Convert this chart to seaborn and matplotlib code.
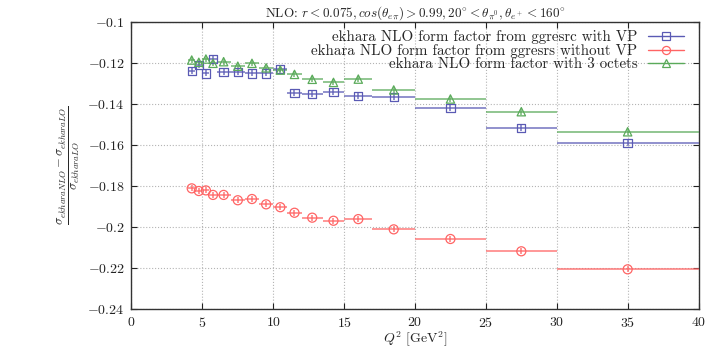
import seaborn as sns
import matplotlib.pyplot as plt
from matplotlib.lines import Line2D
import numpy as np

# Q^2 bins (centre, lower edge, upper edge)
q2 = [4.25, 4.75, 5.25, 5.75, 6.5, 7.5, 8.5, 9.5, 10.5, 11.5,
      12.75, 14.25, 16, 18.5, 22.5, 27.5, 35]
q2_lo = [4.0, 4.5, 5.0, 5.5, 6, 7, 8, 9, 10, 11,
         12, 13.5, 15, 17, 20, 25, 30]
q2_hi = [4.5, 5.0, 5.5, 6.0, 7, 8, 9, 10, 11, 12,
         13.5, 15, 17, 20, 25, 30, 40]

# relative NLO corrections
ggresrc_vp = [-0.1236, -0.1208, -0.1249, -0.1179, -0.1242, -0.1242, -0.1249, -0.1249, -0.1228,
              -0.1346, -0.1350, -0.1341, -0.1358, -0.1363, -0.1417, -0.1514, -0.1589]
ggresrs_novp = [-0.1810, -0.1823, -0.1820, -0.1842, -0.1842, -0.1868, -0.1862, -0.1888, -0.1902,
                -0.1929, -0.1953, -0.1968, -0.1960, -0.2010, -0.2057, -0.2117, -0.2205]
octets3 = [-0.1184, -0.1195, -0.1179, -0.1200, -0.1192, -0.1214, -0.1200, -0.1222, -0.1233,
           -0.1254, -0.1278, -0.1293, -0.1277, -0.1330, -0.1374, -0.1436, -0.1534]
stat_err = [0.0015] * len(q2)

labels = ['ekhara NLO form factor from ggresrc with VP',
          'ekhara NLO form factor from ggresrs without VP',
          'ekhara NLO form factor with 3 octets']

sns.set_style('ticks')
plt.rcParams['font.family'] = ['cmr10', 'DejaVu Serif']
plt.rcParams['mathtext.fontset'] = 'cm'
plt.rcParams['axes.formatter.use_mathtext'] = True
plt.rcParams['axes.unicode_minus'] = True

fig = plt.figure(figsize=(7.08, 3.52), dpi=100)
ax = fig.add_axes([0.1857, 0.1213, 0.8009, 0.8153])

series = [(ggresrc_vp, '#5a5ab4', 's', 6.0),
          (ggresrs_novp, '#ff6464', 'o', 6.5),
          (octets3, '#5aaa5a', '^', 6.0)]

x = np.array(q2)
xerr = [x - np.array(q2_lo), np.array(q2_hi) - x]
handles = []
for (vals, col, mk, ms), lab in zip(series, labels):
    ax.errorbar(x, vals, xerr=xerr, yerr=stat_err, fmt='none', ecolor=col,
                elinewidth=1.1, capsize=0, alpha=0.85, zorder=3)
    sns.scatterplot(x=q2, y=vals, ax=ax, marker=mk, s=ms ** 2,
                    facecolors='none', edgecolor=col, linewidth=0.9, zorder=4)
    handles.append(Line2D([], [], color=col, marker=mk, markersize=ms * 0.9,
                          markerfacecolor='none', markeredgecolor=col, lw=1.0,
                          markeredgewidth=0.9))

ax.set_xlim(0, 40)
ax.set_ylim(-0.24, -0.1)
ax.set_xticks(np.arange(0, 41, 5))
ax.set_yticks(np.arange(-0.24, -0.099, 0.02))
ax.set_yticklabels(['$-0.24$', '$-0.22$', '$-0.2$', '$-0.18$', '$-0.16$',
                    '$-0.14$', '$-0.12$', '$-0.1$'])
ax.set_xticklabels([f'${v}$' for v in range(0, 41, 5)])
ax.tick_params(direction='in', top=True, right=True, length=4, width=0.8,
               labelsize=10, pad=5, colors='#222222')
ax.grid(True, linestyle=':', color='#b4b4b4', linewidth=0.8)
for s in ax.spines.values():
    s.set_color('#333333')
    s.set_linewidth(1.0)

ax.set_xlabel(r'$Q^2$ [GeV$^2$]', fontsize=10, labelpad=0)
ax.set_ylabel(r'$\frac{\sigma_{ekharaNLO} - \sigma_{ekharaLO}}{\sigma_{ekharaLO}}$',
              fontsize=13, labelpad=4)
ax.set_title(r'NLO: $r < 0.075, cos(\theta_{e\pi}) > 0.99, 20^{\circ} < \theta_{\pi^0}, \theta_{e^+} < 160^{\circ}$',
             fontsize=9.5, pad=4)

leg = ax.legend(handles, labels, loc='upper right', frameon=False, markerfirst=False,
                fontsize=10.8, handlelength=2.4, handletextpad=0.7, labelspacing=0.0,
                borderaxespad=0.0, bbox_to_anchor=(0.985, 0.995))
for col in leg._legend_handle_box.get_children():
    col.align = 'right'

fig.savefig('out.png', dpi=100)
